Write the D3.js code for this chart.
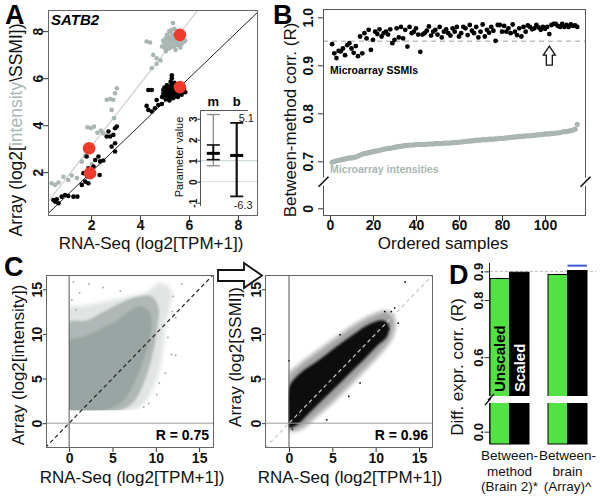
<!DOCTYPE html>
<html><head><meta charset="utf-8">
<script src="https://cdn.jsdelivr.net/npm/d3@7"></script>
<style>body{margin:0;background:#fff}svg{font-family:"Liberation Sans",Arial,sans-serif;display:block}</style>
</head><body><svg id="fig" width="600" height="499"></svg>
<script>
// ================= DATA =================
// Panel A (SATB2): [RNA-Seq, array] per sample
const aTicks = [2, 4, 6, 8];
const aBlackSSMI = [
 [0.46,0.82],[0.53,0.75],[0.60,0.85],[0.67,0.68],[0.80,0.96],[0.94,1.03],[1.07,0.99],[1.28,0.96],[1.44,0.96],
 [1.62,1.46],[1.76,1.60],[1.85,1.82],[1.89,2.17],[1.82,2.67],[2.10,2.24],[2.17,2.52],[2.30,2.67],[2.37,2.46],[2.50,2.50],[2.35,1.88],[1.89,1.53],[1.69,1.96],
 [2.64,3.52],[2.78,3.52],[2.91,3.59],[2.98,3.87],[3.05,3.94],[2.98,3.23],[2.98,2.88],[2.84,3.09],[2.71,3.73],
 [4.27,4.82],[4.34,4.65],[4.48,4.58],[4.61,4.72],[4.75,4.86],[4.89,4.90],[4.68,5.07],[4.34,5.50],[4.48,5.50],
 [4.90,5.20],[4.95,5.35],[5.00,5.45],[5.00,5.25],[5.05,5.55],[5.10,5.40],[5.10,5.30],[5.15,5.60],[5.15,5.45],[5.20,5.50],
 [5.20,5.35],[5.20,5.20],[5.25,5.65],[5.25,5.40],[5.30,5.50],[5.30,5.30],[5.30,5.75],[5.35,5.45],[5.35,5.60],[5.40,5.35],
 [5.40,5.50],[5.40,5.20],[5.45,5.55],[5.45,5.40],[5.50,5.30],[5.50,5.50],[5.50,5.65],[5.55,5.45],[5.60,5.35],[5.60,5.55],
 [5.65,5.40],[5.70,5.50],[5.70,5.30],[5.75,5.45],[5.80,5.55],[5.10,5.70],[5.25,5.85],[5.40,5.80],[5.30,6.00],[5.00,5.60],
 [4.95,5.50],[5.15,5.20],[5.35,5.15],[5.55,5.20],[5.60,5.70],[5.45,5.75],[5.20,5.05],[5.30,6.12],[5.05,5.10],[5.85,5.40]
];
const aGrayIntensity = [
 [0.39,1.53],[0.53,1.46],[0.67,1.56],[0.87,1.81],[1.07,1.67],[1.21,1.86],[1.42,1.75],
 [1.62,2.45],[1.76,2.69],[1.85,3.09],[1.85,3.91],[1.99,3.87],[2.12,3.94],[2.26,3.68],[2.40,3.77],[2.50,3.65],[2.03,2.35],
 [2.64,5.08],[2.78,5.11],[2.91,5.08],[2.98,5.36],[3.05,5.57],[2.84,4.65],[2.94,4.30],
 [4.27,7.56],[4.41,7.52],[4.54,6.99],[4.68,6.85],[4.84,6.75],[4.48,6.42],[4.68,6.61],
 [5.00,7.50],[5.05,7.70],[5.10,7.40],[5.10,7.85],[5.15,7.60],[5.20,7.50],[5.20,7.75],[5.25,7.30],[5.25,7.95],[5.30,7.60],
 [5.30,7.45],[5.35,7.70],[5.35,7.85],[5.40,7.55],[5.40,7.35],[5.45,7.65],[5.45,7.80],[5.50,7.50],[5.50,7.60],[5.55,7.70],
 [5.55,7.40],[5.60,7.55],[5.60,7.85],[5.65,7.60],[5.70,7.45],[5.75,7.65],[5.80,7.55],[5.85,7.60],[5.30,8.05],[5.40,8.10],
 [5.35,8.35],[5.20,8.00],[5.00,7.30],[4.95,7.60],[5.15,7.25],[5.45,7.20],[5.65,7.30],[4.90,7.35],[5.05,7.15],[5.50,8.00]
];
const aRedSSMI = [[1.96,1.96],[5.63,5.62]];
const aRedIntensity = [[1.92,3.02],[5.63,7.84]];
const aIntensityFit = [1.33, 0.43];          // slope, intercept of grey line
const insetTicks = [-1, 0, 1, 2, 3];
const insetParams = ["m", "b"];
const insetM = {lo:0.76, q1:1.05, med:1.35, q3:1.75, hi:3.2};
const insetB = {lo:-0.7, med:1.25, hi:2.8};
const insetBLabels = ["5.1", "-6.3"];

// Panel B: between-method correlation per ordered sample
const bXTicks = [0, 20, 40, 60, 80, 100];
const bYTicks = [0, 0.7, 0.8, 0.9, 1.0];
const bSSMI = [
 0.944,0.925,0.915,0.930,0.929,0.935,0.921,0.942,0.946,0.935,
 0.926,0.940,0.919,0.960,0.925,0.967,0.956,0.974,0.932,0.953,
 0.970,0.965,0.975,0.960,0.967,0.970,0.964,0.975,0.946,0.953,
 0.977,0.958,0.980,0.956,0.974,0.939,0.980,0.967,0.970,0.977,
 0.964,0.928,0.964,0.967,0.972,0.981,0.962,0.970,0.974,0.964,
 0.980,0.958,0.970,0.975,0.967,0.962,0.977,0.970,0.980,0.960,
 0.967,0.980,0.977,0.963,0.984,0.972,0.967,0.980,0.958,0.970,
 0.985,0.960,0.974,0.968,0.980,0.972,0.951,0.984,0.984,0.970,
 0.982,0.970,0.977,0.967,0.985,0.970,0.963,0.977,0.960,0.980,
 0.970,0.983,0.980,0.975,0.977,0.984,0.979,0.974,0.980,0.976,
 0.980,0.965,0.984,0.986,0.986,0.982,0.980,0.986,0.980,0.984,
 0.980,0.985,0.982,0.983,0.980
];
const bIntensity = [
 0.698,0.700,0.701,0.702,0.703,0.704,0.705,0.706,0.707,0.707,
 0.708,0.709,0.711,0.713,0.715,0.716,0.717,0.718,0.719,0.720,
 0.721,0.722,0.723,0.724,0.725,0.726,0.727,0.727,0.728,0.729,
 0.730,0.731,0.731,0.732,0.733,0.733,0.734,0.734,0.734,0.735,
 0.735,0.735,0.735,0.735,0.736,0.736,0.736,0.736,0.737,0.737,
 0.737,0.737,0.738,0.738,0.738,0.738,0.739,0.739,0.739,0.740,
 0.740,0.741,0.741,0.742,0.742,0.743,0.743,0.744,0.744,0.744,
 0.745,0.745,0.745,0.746,0.746,0.746,0.747,0.747,0.748,0.748,
 0.748,0.749,0.749,0.750,0.750,0.751,0.751,0.752,0.752,0.752,
 0.753,0.753,0.753,0.754,0.754,0.755,0.755,0.756,0.756,0.757,
 0.757,0.757,0.758,0.758,0.759,0.759,0.760,0.761,0.762,0.762,
 0.763,0.764,0.765,0.767,0.777
];
const bThreshold = 0.95;
const bArrowSample = 102;

// Panel C: genome-wide scatter (cloud outlines in data units + sparse outliers)
const cTicks = [0, 5, 10, 15];
const cIntensityFloor = [0, 1.45];   // minimum RNA-Seq / array values in the cloud
const cIntensityOuter = [[0,1.49],[7.45,1.49],[8.8,2.4],[9.9,4.4],[10.5,6.3],[10.9,8.6],[11.1,10.9],[11.65,13.1],[11.8,14.9],[10.5,15.7],[8.8,14.6],[6.9,14.2],[5.0,13.8],[3.05,13.4],[1.15,13.1],[0,13.1]];
const cIntensityMid = [[0,1.49],[6.0,1.49],[7.6,2.6],[8.8,5.0],[9.7,8.0],[10.2,11.0],[10.3,13.0],[9.5,14.2],[8.0,14.2],[6.0,13.5],[4.0,12.5],[2.0,11.5],[0.5,11.5],[0,11.3]];
const cIntensityCore = [[0,1.49],[4.2,1.49],[6.1,2.4],[7.45,4.4],[8.4,6.6],[9.17,8.9],[9.55,11.1],[9.17,12.6],[8.0,13.1],[6.9,12.5],[5.35,11.4],[3.8,10.65],[2.3,9.9],[0.77,9.5],[0,9.3]];
const cIntensityOutliers = [[0.5,15.8],[1.2,14.6],[2.3,15.6],[3.9,15.2],[5.9,14.8],[11.9,12.5],[12.3,11.8],[11.8,7.7],[12.3,7.6],[10.4,4.5],[9.2,2.2],[8.6,1.8],[10.1,3.2],[11.4,9.6],[12.0,14.2],[13.0,15.6],[0.3,13.8],[0.8,12.7],[11.1,5.6]];
const cSSMIFloor = [-0.05, -2.67];
const cSSMIOuter = [[0,-0.8],[1.5,-0.6],[3,0.6],[5,2.3],[7,4.2],[9,6.2],[11,8.3],[12,9.8],[12.2,11.6],[11.5,12.5],[10,12.3],[8,11.3],[6,10],[4,8.6],[2,7.2],[0.5,6.0],[0,5.5]];
const cSSMICore = [[0,-0.5],[0.9,-0.2],[2.4,1.2],[4.4,3.1],[6.3,4.9],[8.2,6.7],[10.1,8.6],[11.3,9.7],[11.5,11.0],[10.9,11.5],[9.3,11.1],[7.8,10.2],[5.5,8.6],[3.2,6.9],[1.3,5.6],[0,4.0]];
const cSSMIOutliers = [[0,7.0],[13.4,15.8],[12.2,12.9],[11.8,12.5],[11.05,12.5],[8.2,4.5],[6.9,3.0],[4.35,0.37],[0.4,-0.7],[11.5,10.5],[5.9,9.9],[12.6,11.2]];
const cR = ["R = 0.75", "R = 0.96"];

// Panel D
const dGroups = [["Between-","method","(Brain 2)*"],["Between-","brain","(Array)^"]];
const dSeries = ["Unscaled", "Scaled"];
const dUnscaled = [0.875, 0.889];
const dScaled = [0.897, 0.903];
const dYTicks = [0.0, 0.6, 0.8, 0.9];
const dRef = 0.9;
const dBlue = 0.92;

// ================= DRAWING =================
const svg = d3.select("#fig");
const defs = svg.append("defs");
const GRAY = "#a9b6b3", RED = "#ef3b2c", GREEN = "#52e243";
[["soft", 2.2], ["softer", 1.2]].forEach(([id, s]) =>
  defs.append("filter").attr("id", id).attr("x", "-20%").attr("y", "-20%").attr("width", "140%").attr("height", "140%")
    .append("feGaussianBlur").attr("stdDeviation", s));

function clip(id, x0, y0, x1, y1) {
  defs.append("clipPath").attr("id", id).append("rect")
    .attr("x", x0).attr("y", y0).attr("width", x1 - x0).attr("height", y1 - y0);
}
function frame(g, x0, y0, x1, y1, col) {
  g.append("rect").attr("x", x0 + .5).attr("y", y0 + .5).attr("width", x1 - x0 - 1).attr("height", y1 - y0 - 1)
    .attr("fill", "none").attr("stroke", col || "#555").attr("stroke-width", 1);
}
function bottomAxis(y, scale, ticks, fmt, lblY, size) {
  const g = svg.append("g").attr("transform", `translate(0,${y})`)
    .call(d3.axisBottom(scale).tickValues(ticks).tickSize(size).tickFormat(""));
  g.select(".domain").remove();
  g.selectAll(".tick line").attr("stroke", "#333");
  g.selectAll(".tick").append("text").attr("y", lblY).attr("text-anchor", "middle")
    .attr("font-weight", "bold").attr("font-size", 14).attr("fill", "#111").text(fmt);
  return g;
}
function leftAxis(x, scale, ticks, fmt, off, size, fs) {
  const g = svg.append("g").attr("transform", `translate(${x},0)`)
    .call(d3.axisLeft(scale).tickValues(ticks).tickSize(size).tickFormat(""));
  g.select(".domain").remove();
  g.selectAll(".tick line").attr("stroke", "#333");
  g.selectAll(".tick").append("text").attr("transform", `translate(${-off},0) rotate(-90)`)
    .attr("text-anchor", "middle").attr("font-weight", "bold").attr("font-size", fs || 14).attr("fill", "#111").text(fmt);
  return g;
}
function vlabel(x, y, txt, fs) {
  return svg.append("text").attr("transform", `translate(${x},${y}) rotate(-90)`)
    .attr("text-anchor", "middle").attr("font-size", fs).attr("fill", "#111").text(txt);
}
function hlabel(x, y, txt, fs) {
  return svg.append("text").attr("x", x).attr("y", y).attr("text-anchor", "middle")
    .attr("font-size", fs).attr("fill", "#111").text(txt);
}
function panelLetter(x, y, t) {
  svg.append("text").attr("x", x).attr("y", y).attr("font-size", 27).attr("font-weight", "bold").text(t);
}

// ---------- Panel A ----------
const A = {l: 48, r: 257, t: 10, b: 215};
const ax = d3.scaleLinear().domain([0.24, 8.78]).range([A.l, A.r]);
const ay = d3.scaleLinear().domain([0.18, 8.9]).range([A.b, A.t]);
clip("clipA", A.l, A.t, A.r, A.b);
const gA = svg.append("g").attr("clip-path", "url(#clipA)");
gA.append("line").attr("x1", ax(0)).attr("y1", ay(aIntensityFit[1]))
  .attr("x2", ax(10)).attr("y2", ay(aIntensityFit[0] * 10 + aIntensityFit[1]))
  .attr("stroke", "#cfd5d4").attr("stroke-width", 1.3);
gA.append("line").attr("x1", ax(0)).attr("y1", ay(0)).attr("x2", ax(10)).attr("y2", ay(10))
  .attr("stroke", "#222").attr("stroke-width", 1);
gA.selectAll("circle.g").data(aGrayIntensity).join("circle").attr("class", "g")
  .attr("cx", d => ax(d[0])).attr("cy", d => ay(d[1])).attr("r", 2.3).attr("fill", GRAY);
gA.selectAll("circle.k").data(aBlackSSMI).join("circle").attr("class", "k")
  .attr("cx", d => ax(d[0])).attr("cy", d => ay(d[1])).attr("r", 2.3).attr("fill", "#000");
gA.selectAll("circle.r").data(aRedIntensity.concat(aRedSSMI)).join("circle").attr("class", "r")
  .attr("cx", d => ax(d[0])).attr("cy", d => ay(d[1])).attr("r", 6.3).attr("fill", RED);
frame(svg, A.l, A.t, A.r + 1, A.b + 1, "#666");
bottomAxis(A.b + 1, ax, aTicks, d => d, 14, 5);
leftAxis(A.l, ay, aTicks, d => d, 5, 5);
svg.append("text").attr("x", 51).attr("y", 25).attr("font-size", 15).attr("font-weight", "bold")
  .attr("font-style", "italic").text("SATB2");
{
  const t = svg.append("text").attr("transform", `translate(22,130) rotate(-90)`)
    .attr("text-anchor", "middle").attr("font-size", 17.5).attr("fill", "#111");
  t.append("tspan").text("Array (log2[");
  t.append("tspan").attr("fill", GRAY).text("intensity");
  t.append("tspan").text("\\SSMI])");
}
hlabel(151, 249, "RNA-Seq (log2[TPM+1])", 17);

// inset
const iy = d3.scaleLinear().domain([-1, 3]).range([202.7, 118.7]);
const ix = d3.scalePoint().domain(insetParams).range([213.3, 236.7]);
const I = {l: 200, r: 248, t: 110, b: 206};
svg.append("path").attr("d", `M${I.l + .5},${I.b}V${I.t + .5}H${I.r}`).attr("fill", "none").attr("stroke", "#555");
[[1, "#cfdcdb"], [0, "#e0e0e0"]].forEach(([v, c]) =>
  svg.append("line").attr("x1", I.l + 1).attr("x2", A.r).attr("y1", iy(v)).attr("y2", iy(v)).attr("stroke", c).attr("stroke-width", 1.3));
leftAxis(I.l + 0.5, iy, insetTicks, d => d, 4, 3, 10);
vlabel(183, 157, "Parameter value", 11);
insetParams.forEach(p => svg.append("text").attr("x", ix(p)).attr("y", 106).attr("text-anchor", "middle")
  .attr("font-size", 13).attr("font-weight", "bold").text(p));
{
  const x = ix("m"), w = 6.5;
  svg.append("line").attr("x1", x).attr("x2", x).attr("y1", iy(insetM.hi)).attr("y2", iy(insetM.lo)).attr("stroke", "#8a8a8a").attr("stroke-width", 1.3);
  [insetM.hi, insetM.lo].forEach(v => svg.append("line").attr("x1", x - w).attr("x2", x + w).attr("y1", iy(v)).attr("y2", iy(v)).attr("stroke", "#8a8a8a").attr("stroke-width", 1.3));
  svg.append("line").attr("x1", x).attr("x2", x).attr("y1", iy(insetM.q3)).attr("y2", iy(insetM.q1)).attr("stroke", "#111").attr("stroke-width", 2);
  [insetM.q3, insetM.q1].forEach(v => svg.append("line").attr("x1", x - w).attr("x2", x + w).attr("y1", iy(v)).attr("y2", iy(v)).attr("stroke", "#111").attr("stroke-width", 1.6));
  svg.append("line").attr("x1", x - w).attr("x2", x + w).attr("y1", iy(insetM.med)).attr("y2", iy(insetM.med)).attr("stroke", "#000").attr("stroke-width", 3);
  const xb = ix("b");
  svg.append("line").attr("x1", xb).attr("x2", xb).attr("y1", iy(insetB.hi)).attr("y2", iy(insetB.lo)).attr("stroke", "#111").attr("stroke-width", 2.2);
  [insetB.hi, insetB.lo].forEach(v => svg.append("line").attr("x1", xb - w).attr("x2", xb + w).attr("y1", iy(v)).attr("y2", iy(v)).attr("stroke", "#111").attr("stroke-width", 1.8));
  svg.append("line").attr("x1", xb - w).attr("x2", xb + w).attr("y1", iy(insetB.med)).attr("y2", iy(insetB.med)).attr("stroke", "#000").attr("stroke-width", 3);
  svg.append("text").attr("x", xb + 2).attr("y", iy(insetB.hi) - 1).attr("font-size", 11).attr("fill", "#222").text(insetBLabels[0]);
  svg.append("text").attr("x", xb - 3).attr("y", iy(insetB.lo) + 13).attr("font-size", 11).attr("fill", "#222").text(insetBLabels[1]);
}
panelLetter(5, 24, "A");

// ---------- Panel B ----------
const B = {l: 323, r: 585, t: 9, b: 215};
const bx = d3.scaleLinear().domain([-3.26, 118.6]).range([B.l, B.r]);
const by = d3.scaleLinear().domain([0, 0.6575, 1.0]).range([208.3, 181.7, 17.3]);
svg.append("line").attr("x1", B.l).attr("x2", B.r).attr("y1", by(bThreshold)).attr("y2", by(bThreshold))
  .attr("stroke", "#b9c4c2").attr("stroke-width", 1.5).attr("stroke-dasharray", "5,4");
svg.selectAll("circle.bi").data(bIntensity).join("circle").attr("class", "bi")
  .attr("cx", (d, i) => bx(i + 1)).attr("cy", d => by(d)).attr("r", 2.6).attr("fill", GRAY);
svg.selectAll("circle.bs").data(bSSMI).join("circle").attr("class", "bs")
  .attr("cx", (d, i) => bx(i + 1)).attr("cy", d => by(d)).attr("r", 2.4).attr("fill", "#000");
frame(svg, B.l, B.t, B.r + 1, B.b + 1, "#555");
bottomAxis(B.b + 1, bx, bXTicks, d => d, 14, 5);
leftAxis(B.l, by, bYTicks, d => d === 0 ? "0" : d3.format(".1f")(d), 10, 5);
// axis breaks
[B.l + .5, B.r + .5].forEach(x => {
  const y = 181.7;
  svg.append("rect").attr("x", x - 3).attr("y", y - 4).attr("width", 6).attr("height", 8).attr("fill", "#fff");
  svg.append("path").attr("d", `M${x - 5},${y + 5}L${x + 1},${y - 1}L${x - 1},${y + 1}L${x + 5},${y - 5}`)
    .attr("fill", "none").attr("stroke", "#111").attr("stroke-width", 1.6);
});
svg.append("text").attr("x", 330).attr("y", 74).attr("font-size", 10.5).attr("font-weight", "bold").text("Microarray SSMIs");
svg.append("text").attr("x", 330).attr("y", 173).attr("font-size", 10.5).attr("font-weight", "bold").attr("fill", GRAY).text("Microarray intensities");
{
  const x = bx(bArrowSample), yt = by(bSSMI[bArrowSample - 1]) + 12;
  svg.append("path").attr("d", `M${x},${yt}L${x + 6},${yt + 9}L${x + 3},${yt + 9}L${x + 3},${yt + 19}L${x - 3},${yt + 19}L${x - 3},${yt + 9}L${x - 6},${yt + 9}Z`)
    .attr("fill", "#fff").attr("stroke", "#111").attr("stroke-width", 1.3);
}
vlabel(296, 120, "Between-method corr. (R)", 17);
hlabel(443, 249, "Ordered samples", 17);
panelLetter(273, 24, "B");

// ---------- Panel C ----------
function cloudPanel(id, box, xdom, layers, floor, outliers, dotColor, diagColor, rText) {
  const x = d3.scaleLinear().domain(xdom).range([box.l, box.r]);
  const y = d3.scaleLinear().domain([-2.67, 16.6]).range([box.b, box.t]);
  clip(id, box.l, box.t, box.r, box.b);
  clip(id + "f", x(floor[0]), box.t, box.r, y(floor[1]));
  const g = svg.append("g").attr("clip-path", `url(#${id})`);
  const gc = g.append("g").attr("clip-path", `url(#${id}f)`);
  const line = d3.line().x(d => x(d[0])).y(d => y(d[1])).curve(d3.curveCatmullRomClosed.alpha(0.5));
  layers.forEach(([poly, op, filt]) => gc.append("path").attr("d", line(poly)).attr("fill", dotColor)
    .attr("fill-opacity", op).attr("filter", filt ? `url(#${filt})` : null));
  g.selectAll("rect.o").data(outliers).join("rect").attr("class", "o")
    .attr("x", d => x(d[0]) - 0.8).attr("y", d => y(d[1]) - 0.8).attr("width", 1.6).attr("height", 1.6).attr("fill", dotColor);
  g.append("line").attr("x1", x(-5)).attr("y1", y(-5)).attr("x2", x(20)).attr("y2", y(20))
    .attr("stroke", diagColor).attr("stroke-width", 1.2).attr("stroke-dasharray", "4,3");
  g.append("line").attr("x1", x(0)).attr("x2", x(0)).attr("y1", box.t).attr("y2", box.b).attr("stroke", "#555");
  g.append("line").attr("y1", y(0)).attr("y2", y(0)).attr("x1", box.l).attr("x2", box.r).attr("stroke", "#999");
  frame(svg, box.l, box.t, box.r + 1, box.b + 1, "#666");
  bottomAxis(box.b + 1, x, cTicks, d => d, 15, 4);
  leftAxis(box.l, y, cTicks, d => d, 4, 3);
  svg.append("text").attr("x", box.r - 4).attr("y", y(0) + 17).attr("text-anchor", "end")
    .attr("font-size", 14).attr("font-weight", "bold").text(rText);
  return {x, y};
}
const C1 = {l: 46, r: 213, t: 275, b: 447};
cloudPanel("clipC1", C1, [-2.67, 16.6],
  [[cIntensityOuter, 0.3, "soft"], [cIntensityMid, 0.7, "softer"], [cIntensityCore, 1, "softer"]],
  cIntensityFloor, cIntensityOutliers, "#9aa5a3", "#222", cR[0]);
vlabel(24, 365, "Array (log2[intensity])", 17);
hlabel(132, 483, "RNA-Seq (log2[TPM+1])", 17);
const C2 = {l: 265, r: 432, t: 275, b: 447};
cloudPanel("clipC2", C2, [-2.77, 16.5],
  [[cSSMIOuter, 0.4, "soft"], [cSSMICore, 1, "softer"]],
  cSSMIFloor, cSSMIOutliers, "#111", "#c4cbca", cR[1]);
vlabel(241, 357, "Array (log2[SSMI])", 17);
hlabel(350, 483, "RNA-Seq (log2[TPM+1])", 17);
// big arrow
svg.append("path").attr("d", "M218,270H244V263L262,275.5L244,288V281H218Z")
  .attr("fill", "#fff").attr("stroke", "#111").attr("stroke-width", 1.8).attr("stroke-linejoin", "miter");
panelLetter(4, 276, "C");

// ---------- Panel D ----------
const dy = d3.scaleLinear().domain([-0.043, 0.1, 0.464, 0.93]).range([444, 403, 396, 262.8]);
const dg = d3.scaleBand().domain([0, 1]).range([490, 587]).paddingInner(19 / 58);
const ds = d3.scaleBand().domain(dSeries).range([0, dg.bandwidth()]);
svg.append("line").attr("x1", 490).attr("x2", 596).attr("y1", dy(dRef)).attr("y2", dy(dRef))
  .attr("stroke", "#bbb").attr("stroke-dasharray", "3,2");
const dVals = dSeries.map((s, k) => k === 0 ? dUnscaled : dScaled);
dSeries.forEach((s, k) => {
  svg.selectAll(`rect.d${k}`).data(dVals[k]).join("rect").attr("class", `d${k}`)
    .attr("x", (d, i) => dg(i) + ds(s)).attr("width", ds.bandwidth())
    .attr("y", d => dy(d)).attr("height", d => dy(-0.043) - dy(d))
    .attr("fill", k === 0 ? GREEN : "#000").attr("stroke", "#000").attr("stroke-width", 1);
});
svg.append("rect").attr("x", 486).attr("y", dy(0.464)).attr("width", 106).attr("height", dy(0.1) - dy(0.464)).attr("fill", "#fff");
svg.append("line").attr("x1", dg(1) + ds(dSeries[1])).attr("x2", dg(1) + ds(dSeries[1]) + ds.bandwidth())
  .attr("y1", dy(dBlue)).attr("y2", dy(dBlue)).attr("stroke", "#3b5bd6").attr("stroke-width", 2);
svg.append("line").attr("x1", 489.5).attr("x2", 489.5).attr("y1", dy(0.93)).attr("y2", dy(0.464)).attr("stroke", "#222");
svg.append("line").attr("x1", 489.5).attr("x2", 489.5).attr("y1", dy(0.1)).attr("y2", dy(-0.043)).attr("stroke", "#222");
svg.append("path").attr("d", `M485,${dy(0.1) + 2}L491,${dy(0.3) - 1}L488,${dy(0.3) + 1}L494,${dy(0.464) - 2}`)
  .attr("fill", "none").attr("stroke", "#111").attr("stroke-width", 1.4);
leftAxis(489.5, dy, dYTicks, d => d3.format(".1f")(d), 7, 5, 13);
// in-bar labels
dSeries.forEach((s, k) => {
  svg.append("text").attr("transform", `translate(${dg(0) + ds(s) + ds.bandwidth() / 2 + 5.5},${dy(0.464) - 4}) rotate(-90)`)
    .attr("font-size", 15).attr("font-weight", "bold").attr("fill", k === 0 ? "#000" : "#fff").text(s);
});
dGroups.forEach((lines, i) => lines.forEach((t, j) =>
  hlabel(dg(i) + dg.bandwidth() / 2, 460 + j * 15.5, t, 13.5)));
vlabel(463, 367, "Diff. expr. corr. (R)", 17);
panelLetter(449, 284, "D");
</script></body></html>
